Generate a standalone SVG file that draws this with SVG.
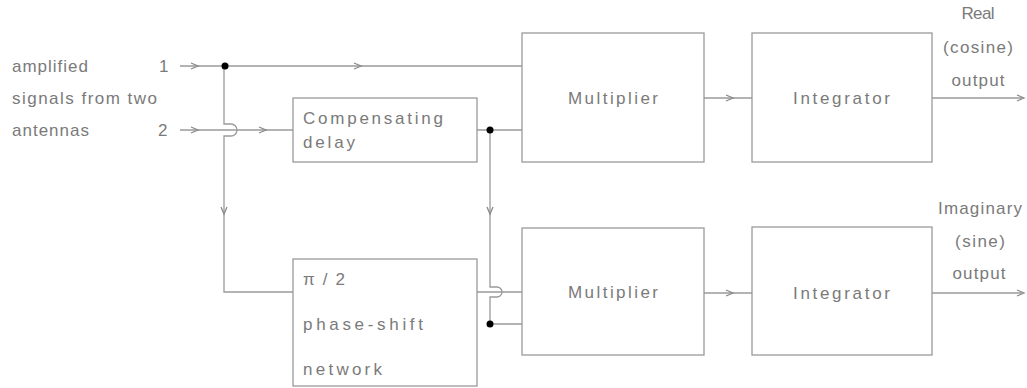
<svg xmlns="http://www.w3.org/2000/svg" xmlns:xlink="http://www.w3.org/1999/xlink" width="1027" height="388" viewBox="0 0 1027 388">
<style>
  .box { fill: none; stroke: #9a9a9a; stroke-width: 1.3; }
  .ln { fill: none; stroke: #9a9a9a; stroke-width: 1.3; }
  .ch { fill: none; stroke: #8a8a8a; stroke-width: 1.3; }
  .dot { fill: #000; }
  text { font-family: "Liberation Sans", Arial, sans-serif; font-size: 17px; fill: #7a7a7a; }
  .mid { text-anchor: middle; }
</style>
<defs>
  <path id="chR" d="M-5,-3 L2,0 L-5,3"/>
  <path id="chD" d="M-3,-5 L0,2 L3,-5"/>
</defs>
<rect width="1027" height="388" fill="#fff"/>

<g id="labels-in">
  <text x="12" y="72" textLength="76" lengthAdjust="spacing">amplified</text>
  <text x="12" y="104" textLength="145" lengthAdjust="spacing">signals from two</text>
  <text x="12" y="136" textLength="77" lengthAdjust="spacing">antennas</text>
  <text x="159" y="72">1</text>
  <text x="158" y="136">2</text>
</g>

<g id="comp-delay">
  <rect class="box" x="293" y="98" width="184" height="64"/>
  <text x="303" y="124" textLength="140" lengthAdjust="spacing">Compensating</text>
  <text x="303" y="148" textLength="52" lengthAdjust="spacing">delay</text>
</g>

<g id="phase-shift">
  <rect class="box" x="293" y="259" width="184" height="127"/>
  <text x="303" y="285" textLength="42" lengthAdjust="spacing">π/2</text>
  <text x="303" y="330" textLength="120" lengthAdjust="spacing">phase-shift</text>
  <text x="303" y="375" textLength="79" lengthAdjust="spacing">network</text>
</g>

<g id="mult-top">
  <rect class="box" x="522" y="33" width="182" height="129"/>
  <text x="568" y="104" textLength="90" lengthAdjust="spacing">Multiplier</text>
</g>

<g id="mult-bot">
  <rect class="box" x="522" y="228" width="182" height="127"/>
  <text x="568" y="298" textLength="90" lengthAdjust="spacing">Multiplier</text>
</g>

<g id="int-top">
  <rect class="box" x="752" y="33" width="180" height="129"/>
  <text x="793" y="104" textLength="97" lengthAdjust="spacing">Integrator</text>
</g>

<g id="int-bot">
  <rect class="box" x="752" y="227" width="180" height="128"/>
  <text x="793" y="299" textLength="97" lengthAdjust="spacing">Integrator</text>
</g>

<g id="labels-out">
  <text class="mid" x="978" y="19" textLength="33" lengthAdjust="spacing">Real</text>
  <text class="mid" x="978" y="53" textLength="70" lengthAdjust="spacing">(cosine)</text>
  <text class="mid" x="978" y="86" textLength="53" lengthAdjust="spacing">output</text>
  <text class="mid" x="980" y="214" textLength="84" lengthAdjust="spacing">Imaginary</text>
  <text class="mid" x="980" y="247" textLength="50" lengthAdjust="spacing">(sine)</text>
  <text class="mid" x="979" y="279" textLength="53" lengthAdjust="spacing">output</text>
</g>

<g id="connectors">
  <path class="ln" d="M180,66 H522"/>
  <path class="ln" d="M180,130 H293"/>
  <path class="ln" d="M224,66 V124 H231 A6,6 0 0 1 231,136 H224 V292 H293"/>
  <path class="ln" d="M477,130 H522"/>
  <path class="ln" d="M490,130 V287 H497 A5,5 0 0 1 497,297 H490 V324 H522"/>
  <path class="ln" d="M477,292 H522"/>
  <path class="ln" d="M704,98 H752"/>
  <path class="ln" d="M704,293 H752"/>
  <path class="ln" d="M932,98 H1022"/>
  <path class="ln" d="M932,293 H1022"/>

  <use class="ch" xlink:href="#chR" href="#chR" x="196" y="66"/>
  <use class="ch" xlink:href="#chR" href="#chR" x="196" y="130"/>
  <use class="ch" xlink:href="#chR" href="#chR" x="359" y="66"/>
  <use class="ch" xlink:href="#chR" href="#chR" x="264" y="130"/>
  <use class="ch" xlink:href="#chR" href="#chR" x="731" y="98"/>
  <use class="ch" xlink:href="#chR" href="#chR" x="731" y="293"/>
  <use class="ch" xlink:href="#chR" href="#chR" x="1022" y="98"/>
  <use class="ch" xlink:href="#chR" href="#chR" x="1022" y="293"/>
  <use class="ch" xlink:href="#chD" href="#chD" x="224" y="212"/>
  <use class="ch" xlink:href="#chD" href="#chD" x="490" y="212"/>

  <circle class="dot" cx="225" cy="66" r="3.5"/>
  <circle class="dot" cx="490" cy="130" r="3.5"/>
  <circle class="dot" cx="490" cy="324" r="3.5"/>
</g>
</svg>
